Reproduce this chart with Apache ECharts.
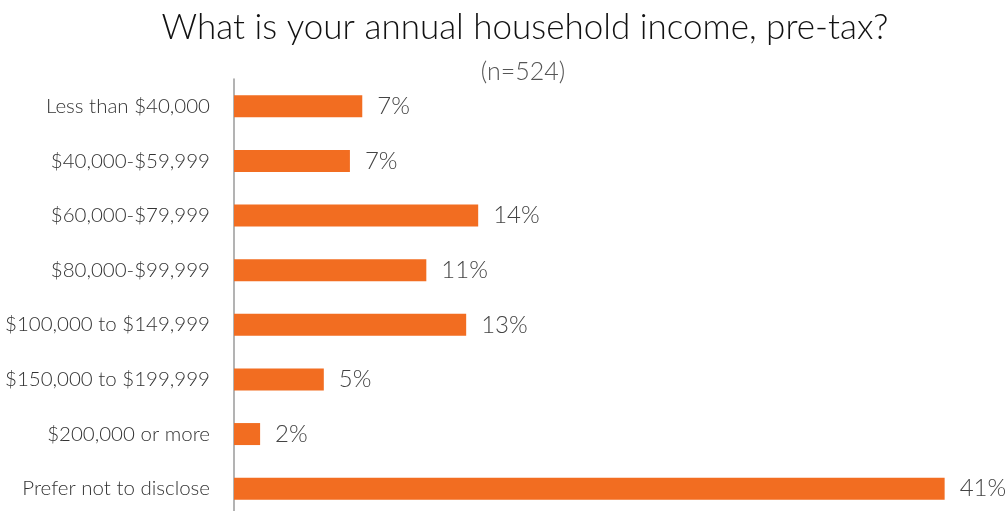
<!DOCTYPE html>
<html>
<head>
<meta charset="utf-8">
<script src="https://cdn.jsdelivr.net/npm/echarts@6/dist/echarts.min.js"></script>
<style>html,body{margin:0;padding:0;background:#fff;}#c{width:1008px;height:511px;}</style>
</head>
<body>
<div id="c"></div>
<script>
const titleText = "What is your annual household income, pre-tax?";
const subtitleText = "(n=524)";
const categories = ["Less than $40,000", "$40,000-$59,999", "$60,000-$79,999", "$80,000-$99,999", "$100,000 to $149,999", "$150,000 to $199,999", "$200,000 or more", "Prefer not to disclose"];
const values = [7.37, 6.66, 14.03, 11.05, 13.34, 5.16, 1.5, 40.83];
const valueLabels = ["7%", "7%", "14%", "11%", "13%", "5%", "2%", "41%"];

const FONT = "Lato";
const chart = echarts.init(document.getElementById('c'), null, {renderer: 'canvas'});
chart.setOption({
  animation: false,
  graphic: [
    {type: 'text', x: 525, y: 28, style: {text: titleText, align: 'center', verticalAlign: 'middle', font: '300 35px ' + FONT, fill: '#111'}},
    {type: 'text', x: 523, y: 72, style: {text: subtitleText, align: 'center', verticalAlign: 'middle', font: '300 25px ' + FONT, fill: '#555'}}
  ],
  grid: {left: 234, top: 79, width: 731, height: 437, containLabel: false, outerBoundsMode: 'none'},
  xAxis: {type: 'value', min: 0, max: 42, show: false},
  yAxis: {
    type: 'category', data: categories, inverse: true,
    axisLine: {show: true, lineStyle: {color: '#9a9a9a', width: 1.5}},
    axisTick: {show: false},
    axisLabel: {fontFamily: FONT, fontWeight: 300, fontSize: 20.5, color: '#333', margin: 24}
  },
  series: [{
    type: 'bar', data: values, barWidth: 22,
    itemStyle: {color: '#F26D21'},
    label: {show: true, position: 'right', distance: 15, fontFamily: FONT, fontWeight: 300, fontSize: 24, color: '#444',
      formatter: p => valueLabels[p.dataIndex]}
  }]
});
</script>
</body>
</html>
